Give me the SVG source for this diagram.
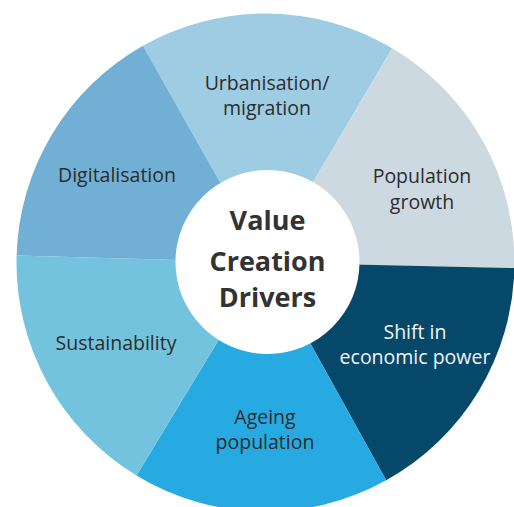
<svg xmlns="http://www.w3.org/2000/svg" width="514" height="507" viewBox="0 0 514 507">
  <style>
    .lbl { font-family: "Open Sans", "Noto Sans", "DejaVu Sans", sans-serif; font-size: 19.5px; fill: #2b2c2e; text-anchor: middle; }
    .lbl.light { fill: #f2f4f5; }
    .title { font-family: "Open Sans", "Noto Sans", "DejaVu Sans", sans-serif; font-size: 27px; font-weight: bold; fill: #333333; text-anchor: middle; }
  </style>
  <rect width="514" height="507" fill="#ffffff"/>
  <g id="connectors"></g>
  <g id="urbanisation">
    <path d="M265.5,262.5 L142.9,45.8 A249,249 0 0 1 392.2,48.2 Z" fill="#9ecce3"/>
    <text class="lbl" x="267" y="89.5">Urbanisation/</text>
    <text class="lbl" x="267" y="115">migration</text>
  </g>
  <g id="population-growth">
    <path d="M265.5,262.5 L392.2,48.2 A249,249 0 0 1 514.4,268.1 Z" fill="#cdd9e1"/>
    <text class="lbl" x="422" y="183">Population</text>
    <text class="lbl" x="422" y="208.5">growth</text>
  </g>
  <g id="shift-economic-power">
    <path d="M265.5,262.5 L514.4,268.1 A249,249 0 0 1 386.2,480.3 Z" fill="#064869"/>
    <text class="lbl light" x="415" y="338.5">Shift in</text>
    <text class="lbl light" x="415" y="363.5">economic power</text>
  </g>
  <g id="ageing-population">
    <path d="M265.5,262.5 L386.2,480.3 A249,249 0 0 1 136.5,475.5 Z" fill="#27aae1"/>
    <text class="lbl" x="265" y="423.5">Ageing</text>
    <text class="lbl" x="265" y="448.5">population</text>
  </g>
  <g id="sustainability">
    <path d="M265.5,262.5 L136.5,475.5 A249,249 0 0 1 16.6,255.5 Z" fill="#74c3de"/>
    <text class="lbl" x="116" y="349.5">Sustainability</text>
  </g>
  <g id="digitalisation">
    <path d="M265.5,262.5 L16.6,255.5 A249,249 0 0 1 142.9,45.8 Z" fill="#71b0d4"/>
    <text class="lbl" x="117" y="181.5">Digitalisation</text>
  </g>
  <g id="value-creation-drivers">
    <circle cx="267.5" cy="262" r="92" fill="#ffffff"/>
    <text class="title" x="267.5" y="229.5">Value</text>
    <text class="title" x="267.5" y="271">Creation</text>
    <text class="title" x="267.5" y="307">Drivers</text>
  </g>
</svg>
